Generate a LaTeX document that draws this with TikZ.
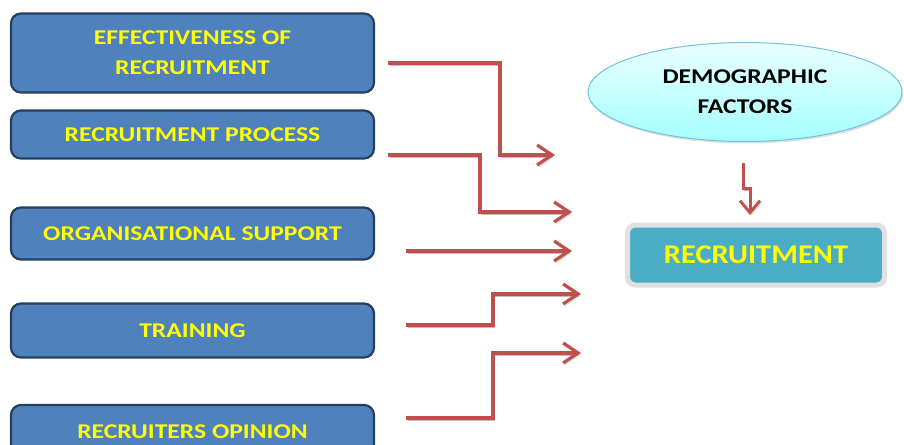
\documentclass[tikz,border=0pt]{standalone}
\usepackage{fontspec}
\setmainfont{Carlito}
\newfontfamily\widefont[FakeStretch=1.22]{Carlito}
\newfontfamily\recfont[FakeStretch=1.13]{Carlito}
\usetikzlibrary{arrows.meta,shapes.geometric,shadows}
\definecolor{boxblue}{HTML}{4F81BD}
\definecolor{boxedge}{HTML}{243F60}
\definecolor{txtyel}{HTML}{FFFF00}
\definecolor{arrred}{HTML}{C0504D}
\definecolor{teal}{HTML}{4BACC6}
\definecolor{elledge}{HTML}{6FC2DE}
\tikzset{
  factor/.style={draw=boxedge, line width=2.2pt, fill=boxblue, rounded corners=10pt,
    minimum width=363pt, text=txtyel, font=\widefont\bfseries\fontsize{21}{30}\selectfont, align=center,
    inner sep=0pt},
  flow/.style={draw=arrred, line width=3.2pt, -{Straight Barb[length=15pt,width=20pt]},
    preaction={draw=black!25, transform canvas={shift={(1.5pt,-2pt)}}}},
}
\begin{document}
\begin{tikzpicture}[x=1pt,y=-1pt]
\useasboundingbox (0,0) rectangle (904,444);
\begin{scope}
\clip (0,0) rectangle (904,444);
\node[factor, minimum height=79pt] (b1) at (192.5,53) {EFFECTIVENESS OF\\RECRUITMENT};
\node[factor, minimum height=48pt] (b2) at (192.5,134.5) {RECRUITMENT PROCESS};
\node[factor, minimum height=52pt] (b3) at (192.5,233.5) {ORGANISATIONAL SUPPORT};
\node[factor, minimum height=54pt] (b4) at (192.5,330.5) {TRAINING};
\node[factor, minimum height=54pt] (b5) at (192.5,432) {RECRUITERS OPINION};
\end{scope}

\node[ellipse, draw=elledge, line width=1pt, top color=cyan!8, bottom color=cyan!35!white,
  minimum width=314pt, minimum height=99pt, font=\widefont\bfseries\fontsize{21}{30}\selectfont,
  align=center, inner sep=0pt, drop shadow={shadow xshift=1pt, shadow yshift=-2pt, opacity=0.25}] (dem) at (745,92) {DEMOGRAPHIC\\FACTORS};

\node[draw=black!12, line width=5pt, rounded corners=8pt, fill=teal,
  minimum width=257pt, minimum height=60pt, text=txtyel,
  font=\recfont\bfseries\fontsize{27}{30}\selectfont, inner sep=0pt,
  drop shadow={shadow xshift=2pt, shadow yshift=-2pt, opacity=0.3}] (rec) at (756,255) {RECRUITMENT};

\coordinate (s1) at (388,63);  \coordinate (e1) at (555,155);
\coordinate (s2) at (388,155); \coordinate (e2) at (572,212);
\coordinate (s3) at (406,251); \coordinate (e3) at (572,251);
\coordinate (s4) at (406,325); \coordinate (e4) at (581,294);
\coordinate (s5) at (406,418); \coordinate (e5) at (581,353);
\coordinate (ds) at (743,163); \coordinate (dm) at (743,188);
\coordinate (de) at (750,215);

\draw[flow] (s1) -- (500,63) -- (500,155) -- (e1);
\draw[flow] (s2) -- (480,155) -- (480,212) -- (e2);
\draw[flow] (s3) -- (e3);
\draw[flow] (s4) -- (493,325) -- (493,294) -- (e4);
\draw[flow] (s5) -- (493,418) -- (493,353) -- (e5);
\draw[flow, line width=3pt, -{Straight Barb[length=12pt,width=20pt]}] (ds) -- (dm) -- (750,188) -- (de);
\end{tikzpicture}
\end{document}
